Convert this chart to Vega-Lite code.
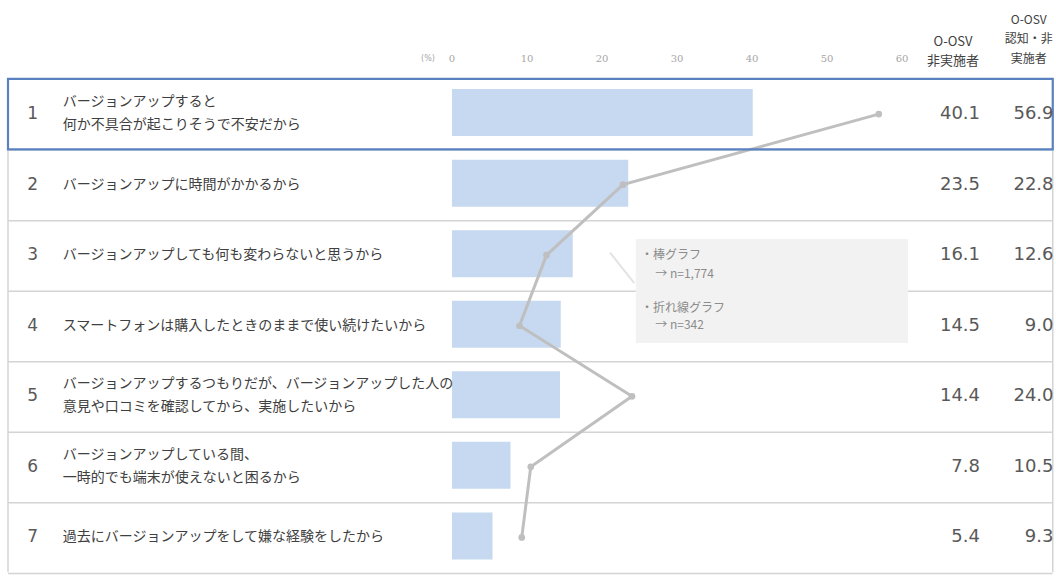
{
  "$schema": "https://vega.github.io/schema/vega-lite/v6.json",
  "width": 1056,
  "height": 577,
  "autosize": {"type": "fit", "contains": "padding"},
  "padding": 0,
  "background": "white",
  "config": {"view": {"stroke": null}},
  "data": {"values": [
    {"rank": 1, "reason": "バージョンアップすると\n何か不具合が起こりそうで不安だから", "bar": 40.1, "line": 56.9},
    {"rank": 2, "reason": "バージョンアップに時間がかかるから", "bar": 23.5, "line": 22.8},
    {"rank": 3, "reason": "バージョンアップしても何も変わらないと思うから", "bar": 16.1, "line": 12.6},
    {"rank": 4, "reason": "スマートフォンは購入したときのままで使い続けたいから", "bar": 14.5, "line": 9.0},
    {"rank": 5, "reason": "バージョンアップするつもりだが、バージョンアップした人の\n意見や口コミを確認してから、実施したいから", "bar": 14.4, "line": 24.0},
    {"rank": 6, "reason": "バージョンアップしている間、\n一時的でも端末が使えないと困るから", "bar": 7.8, "line": 10.5},
    {"rank": 7, "reason": "過去にバージョンアップをして嫌な経験をしたから", "bar": 5.4, "line": 9.3}
  ]},
  "layer": [
    {
      "mark": {"type": "rule", "color": "#d4d4d4", "strokeWidth": 1.5, "yOffset": 36},
      "encoding": {
        "x": {"datum": -59.2, "type": "quantitative", "scale": {"domain": [-60.267, 80.533], "nice": false, "zero": false}, "axis": null},
        "x2": {"datum": 80.1},
        "y": {"field": "rank", "type": "quantitative", "scale": {"domain": [-0.546, 7.49], "nice": false, "zero": false, "reverse": true}, "axis": null}
      }
    },
    {
      "data": {"values": [{"e": "l"}]},
      "mark": {"type": "rule", "color": "#d4d4d4", "strokeWidth": 1.5},
      "encoding": {
        "x": {"datum": -59.2, "type": "quantitative"},
        "y": {"datum": 0.5, "type": "quantitative"},
        "y2": {"datum": 7.49}
      }
    },
    {
      "data": {"values": [{"e": "r"}]},
      "mark": {"type": "rule", "color": "#d4d4d4", "strokeWidth": 1.5},
      "encoding": {
        "x": {"datum": 80.1, "type": "quantitative"},
        "y": {"datum": 0.5, "type": "quantitative"},
        "y2": {"datum": 7.49}
      }
    },
    {
      "data": {"values": [{"e": "box"}]},
      "mark": {"type": "rect", "fill": "#f2f2f2"},
      "encoding": {
        "x": {"datum": 24.5, "type": "quantitative"},
        "x2": {"datum": 60.8},
        "y": {"datum": 2.769, "type": "quantitative"},
        "y2": {"datum": 4.245}
      }
    },
    {
      "data": {"values": [{"e": "tail"}]},
      "mark": {"type": "rule", "color": "#e3e3e3", "strokeWidth": 2},
      "encoding": {
        "x": {"datum": 21.07, "type": "quantitative"},
        "x2": {"datum": 24.3},
        "y": {"datum": 2.964, "type": "quantitative"},
        "y2": {"datum": 3.396}
      }
    },
    {
      "mark": {"type": "bar", "orient": "horizontal", "height": 47, "color": "#c6d9f0", "yOffset": -1.5},
      "encoding": {
        "x": {"field": "bar", "type": "quantitative", "stack": null},
        "x2": {"datum": 0},
        "y": {"field": "rank", "type": "quantitative"}
      }
    },
    {
      "mark": {"type": "line", "color": "#bfbfbf", "strokeWidth": 3},
      "encoding": {
        "x": {"field": "line", "type": "quantitative"},
        "y": {"field": "rank", "type": "quantitative"},
        "order": {"field": "rank"}
      }
    },
    {
      "mark": {"type": "point", "filled": true, "color": "#bfbfbf", "size": 45, "opacity": 1},
      "encoding": {
        "x": {"field": "line", "type": "quantitative"},
        "y": {"field": "rank", "type": "quantitative"}
      }
    },
    {
      "transform": [{"filter": "datum.rank == 1"}],
      "mark": {"type": "rect", "fill": "transparent", "stroke": "#5b82c0", "strokeWidth": 2.2},
      "encoding": {
        "x": {"datum": -59.2, "type": "quantitative"},
        "x2": {"datum": 80.1},
        "y": {"datum": 0.5, "type": "quantitative"},
        "y2": {"datum": 1.5}
      }
    },
    {
      "mark": {"type": "text", "align": "center", "baseline": "middle", "font": "DejaVu Sans", "fontSize": 17, "color": "#595959"},
      "encoding": {
        "x": {"datum": -55.9, "type": "quantitative"},
        "y": {"field": "rank", "type": "quantitative"},
        "text": {"field": "rank"}
      }
    },
    {
      "transform": [{"filter": "indexof(datum.reason, '\\n') < 0"}],
      "mark": {"type": "text", "align": "left", "baseline": "middle", "font": "Noto Sans CJK JP", "fontSize": 14, "color": "#404040"},
      "encoding": {
        "x": {"datum": -51.9, "type": "quantitative"},
        "y": {"field": "rank", "type": "quantitative"},
        "text": {"field": "reason"}
      }
    },
    {
      "transform": [{"filter": "indexof(datum.reason, '\\n') >= 0"}],
      "mark": {"type": "text", "align": "left", "baseline": "middle", "font": "Noto Sans CJK JP", "fontSize": 14, "color": "#404040", "lineBreak": "\n", "lineHeight": 23, "dy": -12},
      "encoding": {
        "x": {"datum": -51.9, "type": "quantitative"},
        "y": {"field": "rank", "type": "quantitative"},
        "text": {"field": "reason"}
      }
    },
    {
      "mark": {"type": "text", "align": "right", "baseline": "middle", "font": "DejaVu Sans", "fontSize": 18, "color": "#595959"},
      "encoding": {
        "x": {"datum": 70.4, "type": "quantitative"},
        "y": {"field": "rank", "type": "quantitative"},
        "text": {"field": "bar", "format": ".1f"}
      }
    },
    {
      "mark": {"type": "text", "align": "right", "baseline": "middle", "font": "DejaVu Sans", "fontSize": 18, "color": "#595959"},
      "encoding": {
        "x": {"datum": 80.2, "type": "quantitative"},
        "y": {"field": "rank", "type": "quantitative"},
        "text": {"field": "line", "format": ".1f"}
      }
    },
    {
      "data": {"values": [{"t": 0}, {"t": 10}, {"t": 20}, {"t": 30}, {"t": 40}, {"t": 50}, {"t": 60}]},
      "mark": {"type": "text", "align": "center", "baseline": "middle", "font": "DejaVu Serif", "fontSize": 10, "color": "#a6a6a6"},
      "encoding": {
        "x": {"field": "t", "type": "quantitative"},
        "y": {"datum": 0.225, "type": "quantitative"},
        "text": {"field": "t"}
      }
    },
    {
      "data": {"values": [{"t": "(%)"}]},
      "mark": {"type": "text", "align": "center", "baseline": "middle", "font": "DejaVu Sans", "fontSize": 8, "color": "#a6a6a6"},
      "encoding": {
        "x": {"datum": -3.2, "type": "quantitative"},
        "y": {"datum": 0.225, "type": "quantitative"},
        "text": {"field": "t"}
      }
    },
    {
      "data": {"values": [{"h": "O-OSV\n非実施者"}]},
      "mark": {"type": "text", "align": "center", "baseline": "middle", "font": "Noto Sans CJK JP", "fontWeight": "normal", "fontSize": 13, "color": "#404040", "lineBreak": "\n", "lineHeight": 19},
      "encoding": {
        "x": {"datum": 66.8, "type": "quantitative"},
        "y": {"datum": -0.025, "type": "quantitative"},
        "text": {"field": "h"}
      }
    },
    {
      "data": {"values": [{"h": "O-OSV\n認知・非\n実施者"}]},
      "mark": {"type": "text", "align": "center", "baseline": "middle", "font": "Noto Sans CJK JP", "fontWeight": "normal", "fontSize": 12, "color": "#404040", "lineBreak": "\n", "lineHeight": 19.5},
      "encoding": {
        "x": {"datum": 76.9, "type": "quantitative"},
        "y": {"datum": -0.335, "type": "quantitative"},
        "text": {"field": "h"}
      }
    },
    {
      "data": {"values": [
        {"note": "・棒グラフ", "x": 25.2, "y": 3.0},
        {"note": "→  n=1,774", "x": 27.1, "y": 3.27},
        {"note": "・折れ線グラフ", "x": 25.2, "y": 3.744},
        {"note": "→  n=342", "x": 27.1, "y": 3.99}
      ]},
      "mark": {"type": "text", "align": "left", "baseline": "middle", "font": "Noto Sans CJK JP", "fontSize": 12, "color": "#8c8c8c"},
      "encoding": {
        "x": {"field": "x", "type": "quantitative"},
        "y": {"field": "y", "type": "quantitative"},
        "text": {"field": "note"}
      }
    }
  ]
}
